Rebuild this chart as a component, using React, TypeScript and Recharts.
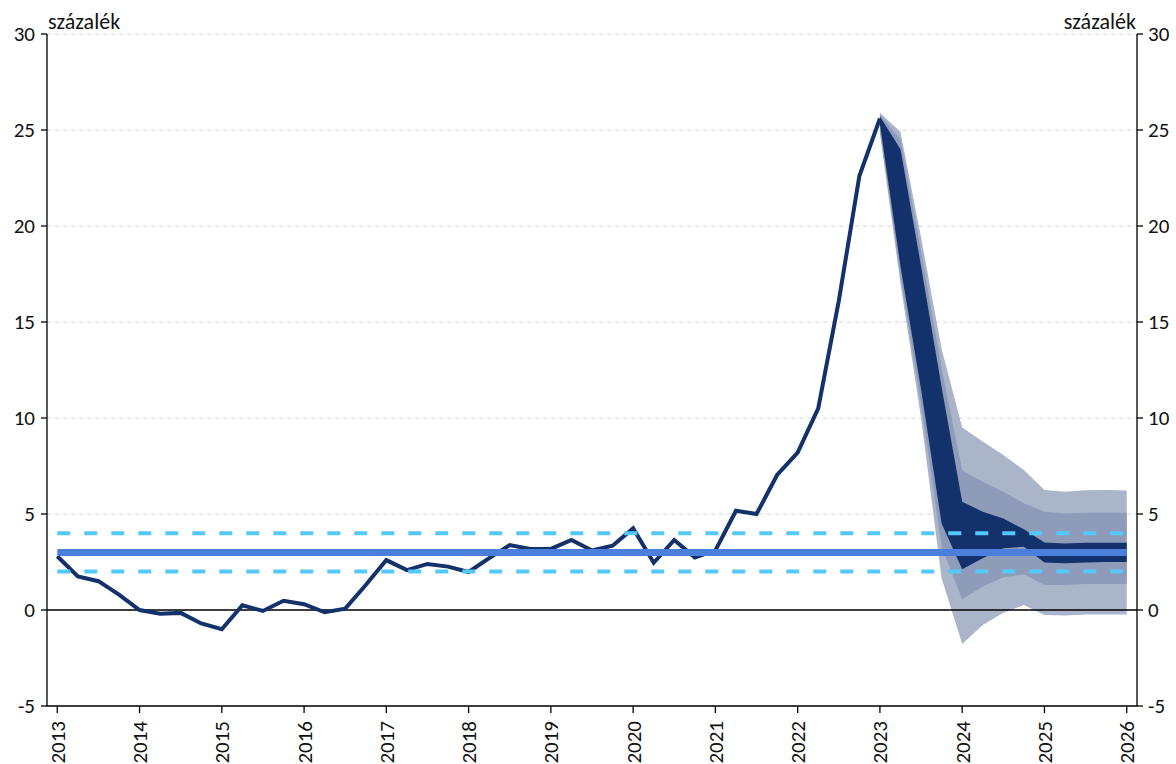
import React from 'react';
import {
  ComposedChart,
  Line,
  Area,
  XAxis,
  YAxis,
  CartesianGrid,
  ReferenceLine,
} from 'recharts';

// Tick labels (one per year, quarterly data)
const years = [2013, 2014, 2015, 2016, 2017, 2018, 2019, 2020, 2021, 2022, 2023, 2024, 2025, 2026];
const yTicks = [-5, 0, 5, 10, 15, 20, 25, 30];

// Actual inflation, 2013Q1 .. 2023Q1 (percent)
const actual = [
  2.8, 1.75, 1.5, 0.8,
  0.0, -0.2, -0.15, -0.7,
  -1.0, 0.25, -0.05, 0.48,
  0.3, -0.12, 0.07, 1.3,
  2.6, 2.08, 2.4, 2.26,
  1.98, 2.7, 3.38, 3.18,
  3.18, 3.65, 3.1, 3.35,
  4.25, 2.46, 3.65, 2.74,
  3.1, 5.17, 5.0, 7.03,
  8.2, 10.5, 16.1, 22.6,
  25.6,
];

// Fan chart bands, 2023Q1 .. 2026Q1
const outerHi = [25.9, 24.9, 19.4, 13.6, 9.5, 8.77, 8.07, 7.29, 6.25, 6.16, 6.24, 6.25, 6.22];
const midHi = [25.8, 24.5, 18.7, 12.6, 7.26, 6.68, 6.16, 5.56, 5.12, 5.03, 5.07, 5.07, 5.07];
const darkHi = [25.7, 24.0, 17.9, 11.6, 5.64, 5.12, 4.77, 4.2, 3.52, 3.47, 3.5, 3.5, 3.5];
const darkLo = [25.3, 17.9, 11.5, 4.5, 2.12, 2.69, 3.21, 3.3, 2.47, 2.43, 2.47, 2.5, 2.5];
const midLo = [25.0, 17.4, 10.7, 3.3, 0.56, 1.22, 1.7, 1.86, 1.3, 1.3, 1.35, 1.35, 1.35];
const outerLo = [24.8, 17.0, 10.0, 1.65, -1.77, -0.78, -0.14, 0.26, -0.26, -0.28, -0.24, -0.24, -0.24];

// Inflation target and tolerance band
const TARGET = 3;
const TOL_LOW = 2;
const TOL_HIGH = 4;

const QUARTERS = (years.length - 1) * 4 + 1; // 53
const FAN_START = actual.length - 1; // 2023Q1 index

const data = Array.from({ length: QUARTERS }, (_, i) => {
  const f = i - FAN_START;
  const inFan = f >= 0 && f < outerHi.length;
  return {
    x: i,
    cpi: i < actual.length ? actual[i] : null,
    outer: inFan ? [outerLo[f], outerHi[f]] : null,
    mid: inFan ? [midLo[f], midHi[f]] : null,
    dark: inFan ? [darkLo[f], darkHi[f]] : null,
  };
});

const xTicks = years.map((_, i) => i * 4);
const FONT = 'Carlito, Lato, "Open Sans", sans-serif';

const XTick = (props: any) => {
  const { x, y, payload } = props;
  const label = years[Math.round(payload.value / 4)];
  return (
    <g transform={`translate(${x},${y})`}>
      <text
        transform="rotate(-90)"
        x={-6}
        y={0}
        dy="0.36em"
        textAnchor="end"
        fontSize={21}
        fontFamily={FONT}
        fill="#111"
      >
        {label}
      </text>
    </g>
  );
};

export default function App() {
  return (
    <div style={{ position: 'absolute', left: 0, top: 0, width: 1176, height: 764, background: '#fff' }}>
      <ComposedChart
        width={1176}
        height={764}
        data={data}
        margin={{ top: 34, right: 0, bottom: 0, left: 7 }}
      >
        <CartesianGrid
          vertical={false}
          stroke="#D4D4D4"
          strokeDasharray="4 4"
          yAxisId="left"
        />
        <XAxis
          dataKey="x"
          type="number"
          domain={[-0.5, QUARTERS - 0.5]}
          ticks={xTicks}
          interval={0}
          tick={<XTick />}
          tickSize={7}
          tickMargin={2}
          height={58}
          axisLine={{ stroke: '#000', strokeWidth: 1.3 }}
          tickLine={{ stroke: '#000', strokeWidth: 1.3 }}
          allowDataOverflow
        />
        <YAxis
          yAxisId="left"
          orientation="left"
          domain={[-5, 30]}
          ticks={yTicks}
          interval={0}
          width={40}
          tickSize={6}
          tickMargin={6}
          tick={{ fontSize: 21, fill: '#111', fontFamily: FONT }}
          axisLine={{ stroke: '#000', strokeWidth: 1.3 }}
          tickLine={{ stroke: '#000', strokeWidth: 1.3 }}
          allowDataOverflow
        />
        <YAxis
          yAxisId="right"
          orientation="right"
          domain={[-5, 30]}
          ticks={yTicks}
          interval={0}
          width={39}
          tickSize={6}
          tickMargin={5}
          tick={{ fontSize: 21, fill: '#111', fontFamily: FONT, textAnchor: 'start' }}
          axisLine={{ stroke: '#000', strokeWidth: 1.3 }}
          tickLine={{ stroke: '#000', strokeWidth: 1.3 }}
          allowDataOverflow
        />
        <Area
          yAxisId="left"
          dataKey="outer"
          type="linear"
          stroke="none"
          fill="#AAB5CA"
          fillOpacity={1}
          isAnimationActive={false}
          connectNulls={false}
          dot={false}
          activeDot={false}
        />
        <Area
          yAxisId="left"
          dataKey="mid"
          type="linear"
          stroke="none"
          fill="#8E9CBA"
          fillOpacity={1}
          isAnimationActive={false}
          connectNulls={false}
          dot={false}
          activeDot={false}
        />
        <Area
          yAxisId="left"
          dataKey="dark"
          type="linear"
          stroke="none"
          fill="#13316B"
          fillOpacity={1}
          isAnimationActive={false}
          connectNulls={false}
          dot={false}
          activeDot={false}
        />
        <ReferenceLine yAxisId="left" y={0} stroke="#000" strokeWidth={1.3} />
        <Line
          yAxisId="left"
          dataKey="cpi"
          type="linear"
          stroke="#13316B"
          strokeWidth={4}
          dot={false}
          activeDot={false}
          isAnimationActive={false}
          connectNulls={false}
          strokeLinejoin="miter"
        />
        <ReferenceLine
          yAxisId="left"
          segment={[{ x: 0, y: TOL_HIGH }, { x: QUARTERS - 1, y: TOL_HIGH }]}
          stroke="#55C8FA"
          strokeWidth={4}
          strokeDasharray="13 14"
        />
        <ReferenceLine
          yAxisId="left"
          segment={[{ x: 0, y: TOL_LOW }, { x: QUARTERS - 1, y: TOL_LOW }]}
          stroke="#55C8FA"
          strokeWidth={4}
          strokeDasharray="13 14"
        />
        <ReferenceLine
          yAxisId="left"
          segment={[{ x: 0, y: TARGET }, { x: QUARTERS - 1, y: TARGET }]}
          stroke="#4A7FDC"
          strokeWidth={7}
        />
      </ComposedChart>
      <svg
        width={1176}
        height={40}
        style={{ position: 'absolute', left: 0, top: 0, pointerEvents: 'none' }}
      >
        <text x={48} y={29} fontSize={22} fontFamily={FONT} fill="#111">
          százalék
        </text>
        <text x={1136} y={29} fontSize={22} fontFamily={FONT} fill="#111" textAnchor="end">
          százalék
        </text>
      </svg>
    </div>
  );
}
